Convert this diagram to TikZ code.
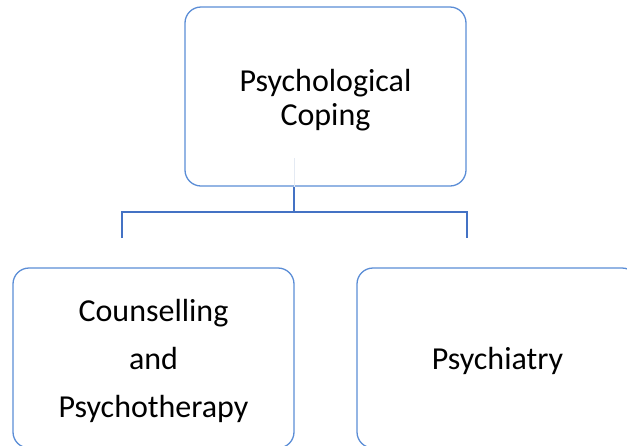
\documentclass[tikz,border=0pt]{standalone}
\usepackage{fontspec}
\setmainfont{Carlito}
\definecolor{boxline}{HTML}{5B8DD6}
\definecolor{linkline}{HTML}{4472C4}
\definecolor{faintline}{HTML}{E4EAF3}
\begin{document}
\begin{tikzpicture}[x=1pt,y=-1pt,
  card/.style={draw=boxline, line width=1.3pt, rounded corners=16pt,
    minimum width=281pt, inner sep=0pt},
  cardtext/.style={align=center, inner sep=0pt,
    font=\fontsize{32}{34}\selectfont},
  link/.style={draw=linkline, line width=1.4pt},
  faint/.style={draw=faintline, line width=1pt}]
\useasboundingbox (0,0) rectangle (627,445);
% boxes
\node[card, minimum height=179pt] (top) at (325.5,96.5) {};
\node[card, minimum height=180pt] (left) at (153.5,358) {};
\node[card, minimum height=180pt] (right) at (497.5,358) {};
% box texts, set a little below the box centres
\node[cardtext] (topText) at ([yshift=-4pt]top.center) {Psychological\\Coping};
\node[cardtext, font=\fontsize{32}{48}\selectfont] (leftText) at ([yshift=-3pt]left.center)
  {Counselling\\and\\Psychotherapy};
\node[cardtext] (rightText) at ([yshift=-3pt]right.center) {Psychiatry};
% connector tree
\coordinate (hub) at (294,212);
\coordinate (legL) at (122,238);
\coordinate (legR) at (467,238);
\draw[faint] (top.south -| hub) -- ++(0,-29);
\draw[link] (top.south -| hub) -- (hub);
\draw[link] (legL) |- (hub) -| (legR);
\end{tikzpicture}
\end{document}
